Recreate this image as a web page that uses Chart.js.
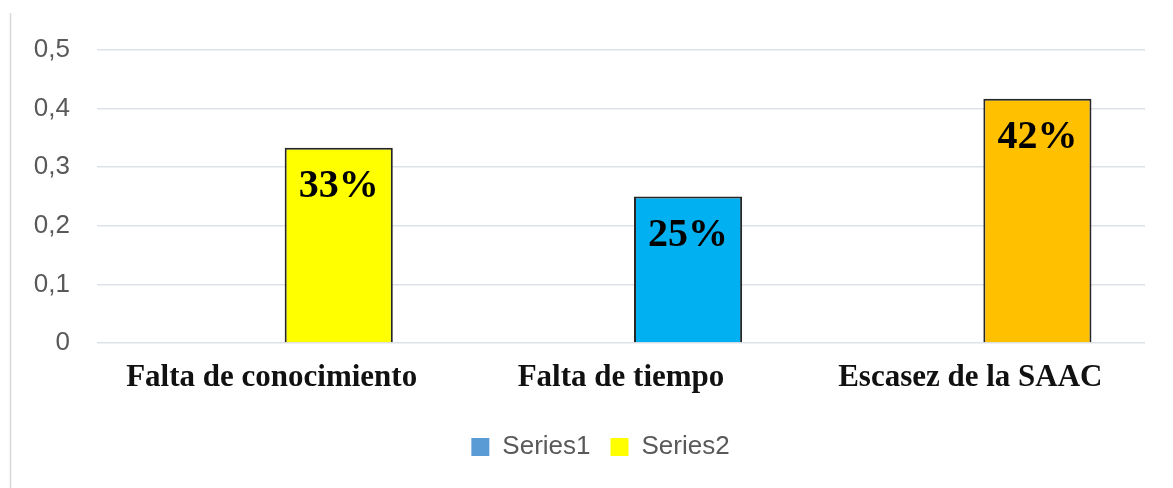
<!DOCTYPE html>
<html>
<head>
<meta charset="utf-8">
<script src="https://cdn.jsdelivr.net/npm/chart.js@4"></script>
<style>
  html, body { margin: 0; padding: 0; background: #fff; }
  #wrap { width: 1173px; height: 488px; position: relative; }
</style>
</head>
<body>
<div id="wrap"><canvas id="c" width="1173" height="488"></canvas></div>
<script>
const categories = ['Falta de conocimiento', 'Falta de tiempo', 'Escasez de la SAAC'];
const series1 = [0, 0, 0];
const series2 = [0.333, 0.25, 0.417];
const series2Colors = ['#FFFF00', '#00B0F0', '#FFC000'];
const yTicks = [0, 0.1, 0.2, 0.3, 0.4, 0.5];

const frameAndLabels = {
  id: 'frameAndLabels',
  afterLayout(chart) {
    const lg = chart.legend;
    if (lg) { lg.left += 13; lg.right += 13; }
  },
  beforeDraw(chart) {
    const ctx = chart.ctx;
    ctx.save();
    ctx.strokeStyle = '#d9d9d9';
    ctx.lineWidth = 1.5;
    ctx.beginPath();
    ctx.moveTo(10.5, 13);
    ctx.lineTo(10.5, 488);
    ctx.stroke();
    ctx.restore();
  },
  afterDatasetsDraw(chart) {
    const ctx = chart.ctx;
    const meta = chart.getDatasetMeta(1);
    ctx.save();
    ctx.font = 'bold 40px "Liberation Serif", "Times New Roman", serif';
    ctx.fillStyle = '#000';
    ctx.textAlign = 'center';
    ctx.textBaseline = 'middle';
    meta.data.forEach((bar, i) => {
      const v = chart.data.datasets[1].data[i];
      ctx.fillText(Math.round(v * 100) + '%', bar.x, bar.y + 39);
    });
    ctx.restore();
  }
};

new Chart(document.getElementById('c'), {
  type: 'bar',
  data: {
    labels: categories,
    datasets: [
      { label: 'Series1', data: series1, backgroundColor: '#5B9BD5', borderWidth: 0 },
      { label: 'Series2', data: series2, backgroundColor: series2Colors, borderColor: '#262626', borderWidth: 2 }
    ]
  },
  options: {
    responsive: false,
    animation: false,
    categoryPercentage: 0.768,
    barPercentage: 0.806,
    layout: { padding: { top: 50, right: 28, bottom: 18, left: 30 } },
    plugins: {
      tooltip: { enabled: false },
      legend: {
        position: 'bottom',
        labels: {
          boxWidth: 18, boxHeight: 18,
          color: '#595959',
          font: { family: '"Liberation Sans", Arial, sans-serif', size: 26 },
          padding: 20,
          generateLabels(chart) {
            return chart.data.datasets.map((ds, i) => ({
              text: ds.label,
              fillStyle: Array.isArray(ds.backgroundColor) ? ds.backgroundColor[0] : ds.backgroundColor,
              strokeStyle: 'transparent',
              lineWidth: 0,
              fontColor: '#595959',
              datasetIndex: i
            }));
          }
        }
      }
    },
    scales: {
      x: {
        grid: { display: false, drawTicks: false },
        border: { display: false },
        afterFit(scale) { scale.height = 71; },
        ticks: {
          color: '#111',
          padding: 16,
          font: { family: '"Liberation Serif", "Times New Roman", serif', size: 31, weight: 'bold' }
        }
      },
      y: {
        min: 0, max: 0.5,
        afterBuildTicks(scale) { scale.ticks = yTicks.map(v => ({ value: v })); },
        afterFit(scale) { scale.width = 67; },
        grid: { color: '#dde1e8', lineWidth: 1.5, drawTicks: false },
        border: { display: false },
        ticks: {
          color: '#595959',
          padding: 27,
          font: { family: '"Liberation Sans", Arial, sans-serif', size: 26 },
          callback: v => (Math.round(v * 10) / 10).toString().replace('.', ',')
        }
      }
    }
  },
  plugins: [frameAndLabels]
});
</script>
</body>
</html>
